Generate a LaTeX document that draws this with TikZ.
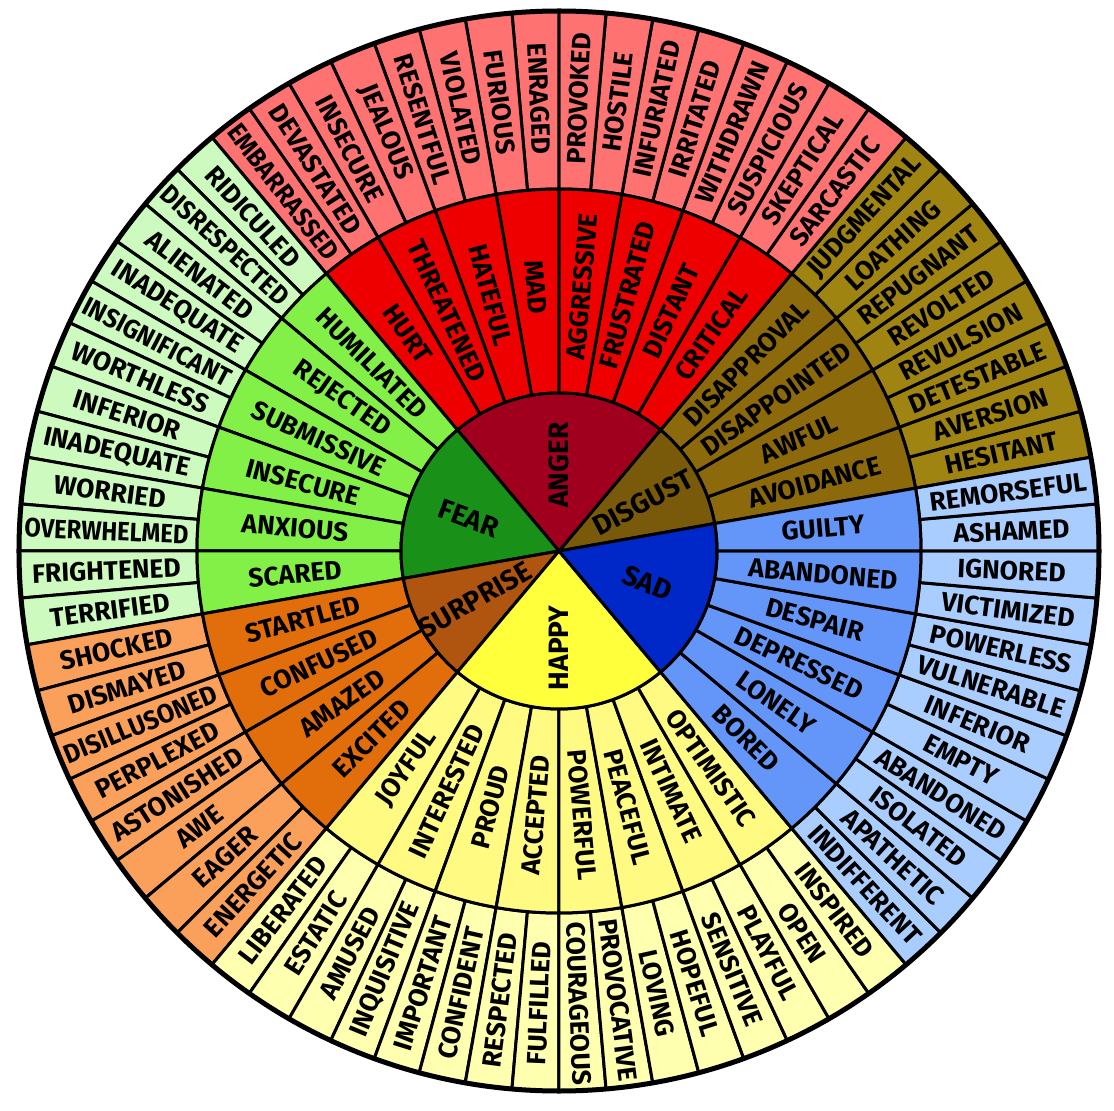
\documentclass[tikz,border=0pt]{standalone}
\usepackage{fontspec}
\setmainfont{Fira Sans}
\usepackage{graphicx}
\definecolor{angC}{HTML}{A0001E}
\definecolor{angM}{HTML}{EE0000}
\definecolor{angO}{HTML}{FF7272}
\definecolor{disC}{HTML}{785A0A}
\definecolor{disM}{HTML}{8C690A}
\definecolor{disO}{HTML}{A08412}
\definecolor{sadC}{HTML}{0028C8}
\definecolor{sadM}{HTML}{6496FA}
\definecolor{sadO}{HTML}{AACDFF}
\definecolor{hapC}{HTML}{FFFF3C}
\definecolor{hapM}{HTML}{FFFA82}
\definecolor{hapO}{HTML}{FFFFB0}
\definecolor{surC}{HTML}{AF550F}
\definecolor{surM}{HTML}{E16E0A}
\definecolor{surO}{HTML}{FAA05A}
\definecolor{feaC}{HTML}{199119}
\definecolor{feaM}{HTML}{82F046}
\definecolor{feaO}{HTML}{CDFABE}
\newcommand\fitw[2]{\sbox0{#2}\ifdim\wd0>#1\relax\resizebox{#1}{\ht0}{#2}\else\usebox0\fi}
% #1 prefix, #2 r1, #3 r2, #4 start, #5 step, #6 colour, #7 label radius, #8 max width, #9 list
\newcommand\wring[9]{%
  \foreach \lab [count=\k] in {#9} {
    \pgfmathsetmacro\aa{#4+(\k-1)*#5}
    \pgfmathsetmacro\ab{\aa+#5}
    \pgfmathsetmacro\am{\aa+#5/2}
    \pgfmathsetmacro\an{mod(\am+360,360)}
    \pgfmathsetmacro\rot{\an<90.1 ? \an : (\an<270.1 ? \an-180 : \an-360)}
    \draw[seg, fill=#6] (\aa:#2) arc[start angle=\aa, end angle=\ab, radius=#2]
      -- (\ab:#3) arc[start angle=\ab, end angle=\aa, radius=#3] -- cycle;
    \node[lbl, rotate=\rot] (#1\k) at (\am:#7) {\fitw{#8}{\lab}};
  }
}
\begin{document}
\begin{tikzpicture}[x=1pt,y=1pt,
  seg/.style={draw=black, line width=3pt, line join=round},
  lbl/.style={font=\fontsize{26.5}{28}\selectfont\bfseries, inner sep=0pt, text=black}]
\useasboundingbox (-559,-560) rectangle (555,551);
\fill[white] (-559,-560) rectangle (555,551);
% outer ring
\wring{od}{362}{540}{10}{5}{disO}{453}{164pt}{HESITANT,AVERSION,DETESTABLE,REVULSION,REVOLTED,REPUGNANT,LOATHING,JUDGMENTAL}
\wring{oa}{362}{540}{50}{5}{angO}{453}{164pt}{SARCASTIC,SKEPTICAL,SUSPICIOUS,WITHDRAWN,IRRITATED,INFURIATED,HOSTILE,PROVOKED,ENRAGED,FURIOUS,VIOLATED,RESENTFUL,JEALOUS,INSECURE,DEVASTATED,EMBARRASSED}
\wring{of}{362}{540}{130}{5}{feaO}{453}{164pt}{RIDICULED,DISRESPECTED,ALIENATED,INADEQUATE,INSIGNIFICANT,WORTHLESS,INFERIOR,INADEQUATE,WORRIED,OVERWHELMED,FRIGHTENED,TERRIFIED}
\wring{os}{362}{540}{190}{5}{surO}{453}{164pt}{SHOCKED,DISMAYED,DISILLUSONED,PERPLEXED,ASTONISHED,AWE,EAGER,ENERGETIC}
\wring{oh}{362}{540}{230}{5}{hapO}{453}{164pt}{LIBERATED,ESTATIC,AMUSED,INQUISITIVE,IMPORTANT,CONFIDENT,RESPECTED,FULFILLED,COURAGEOUS,PROVOCATIVE,LOVING,HOPEFUL,SENSITIVE,PLAYFUL,OPEN,INSPIRED}
\wring{ob}{362}{540}{310}{5}{sadO}{453}{164pt}{INDIFFERENT,APATHETIC,ISOLATED,ABANDONED,EMPTY,INFERIOR,VULNERABLE,POWERLESS,VICTIMIZED,IGNORED,ASHAMED,REMORSEFUL}
% middle ring
\wring{md}{158}{362}{10}{10}{disM}{265}{185pt}{AVOIDANCE,AWFUL,DISAPPOINTED,DISAPPROVAL}
\wring{ma}{158}{362}{50}{10}{angM}{265}{185pt}{CRITICAL,DISTANT,FRUSTRATED,AGGRESSIVE,MAD,HATEFUL,THREATENED,HURT}
\wring{mf}{158}{362}{130}{10}{feaM}{265}{185pt}{HUMILIATED,REJECTED,SUBMISSIVE,INSECURE,ANXIOUS,SCARED}
\wring{ms}{158}{362}{190}{10}{surM}{265}{185pt}{STARTLED,CONFUSED,AMAZED,EXCITED}
\wring{mh}{158}{362}{230}{10}{hapM}{265}{185pt}{JOYFUL,INTERESTED,PROUD,ACCEPTED,POWERFUL,PEACEFUL,INTIMATE,OPTIMISTIC}
\wring{mb}{158}{362}{310}{10}{sadM}{265}{185pt}{BORED,LONELY,DEPRESSED,DESPAIR,ABANDONED,GUILTY}
% core
\foreach \nm/\a/\b/\c/\lab/\lr/\rot in {cd/10/50/disC/DISGUST/97/28, ca/50/130/angC/ANGER/86/90, cf/130/190/feaC/FEAR/96/-20, cs/190/230/surC/SURPRISE/97/30, ch/230/310/hapC/HAPPY/97/90, cb/310/370/sadC/SAD/94/-22} {
  \draw[seg, fill=\c] (0,0) -- (\a:158) arc[start angle=\a, end angle=\b, radius=158] -- cycle;
  \pgfmathsetmacro\am{(\a+\b)/2}
  \node[lbl, font=\fontsize{28}{30}\selectfont\bfseries, rotate=\rot] (\nm) at (\am:\lr) {\fitw{140pt}{\lab}};
}
\draw[line width=5pt] (0,0) circle[radius=540];
\end{tikzpicture}
\end{document}
